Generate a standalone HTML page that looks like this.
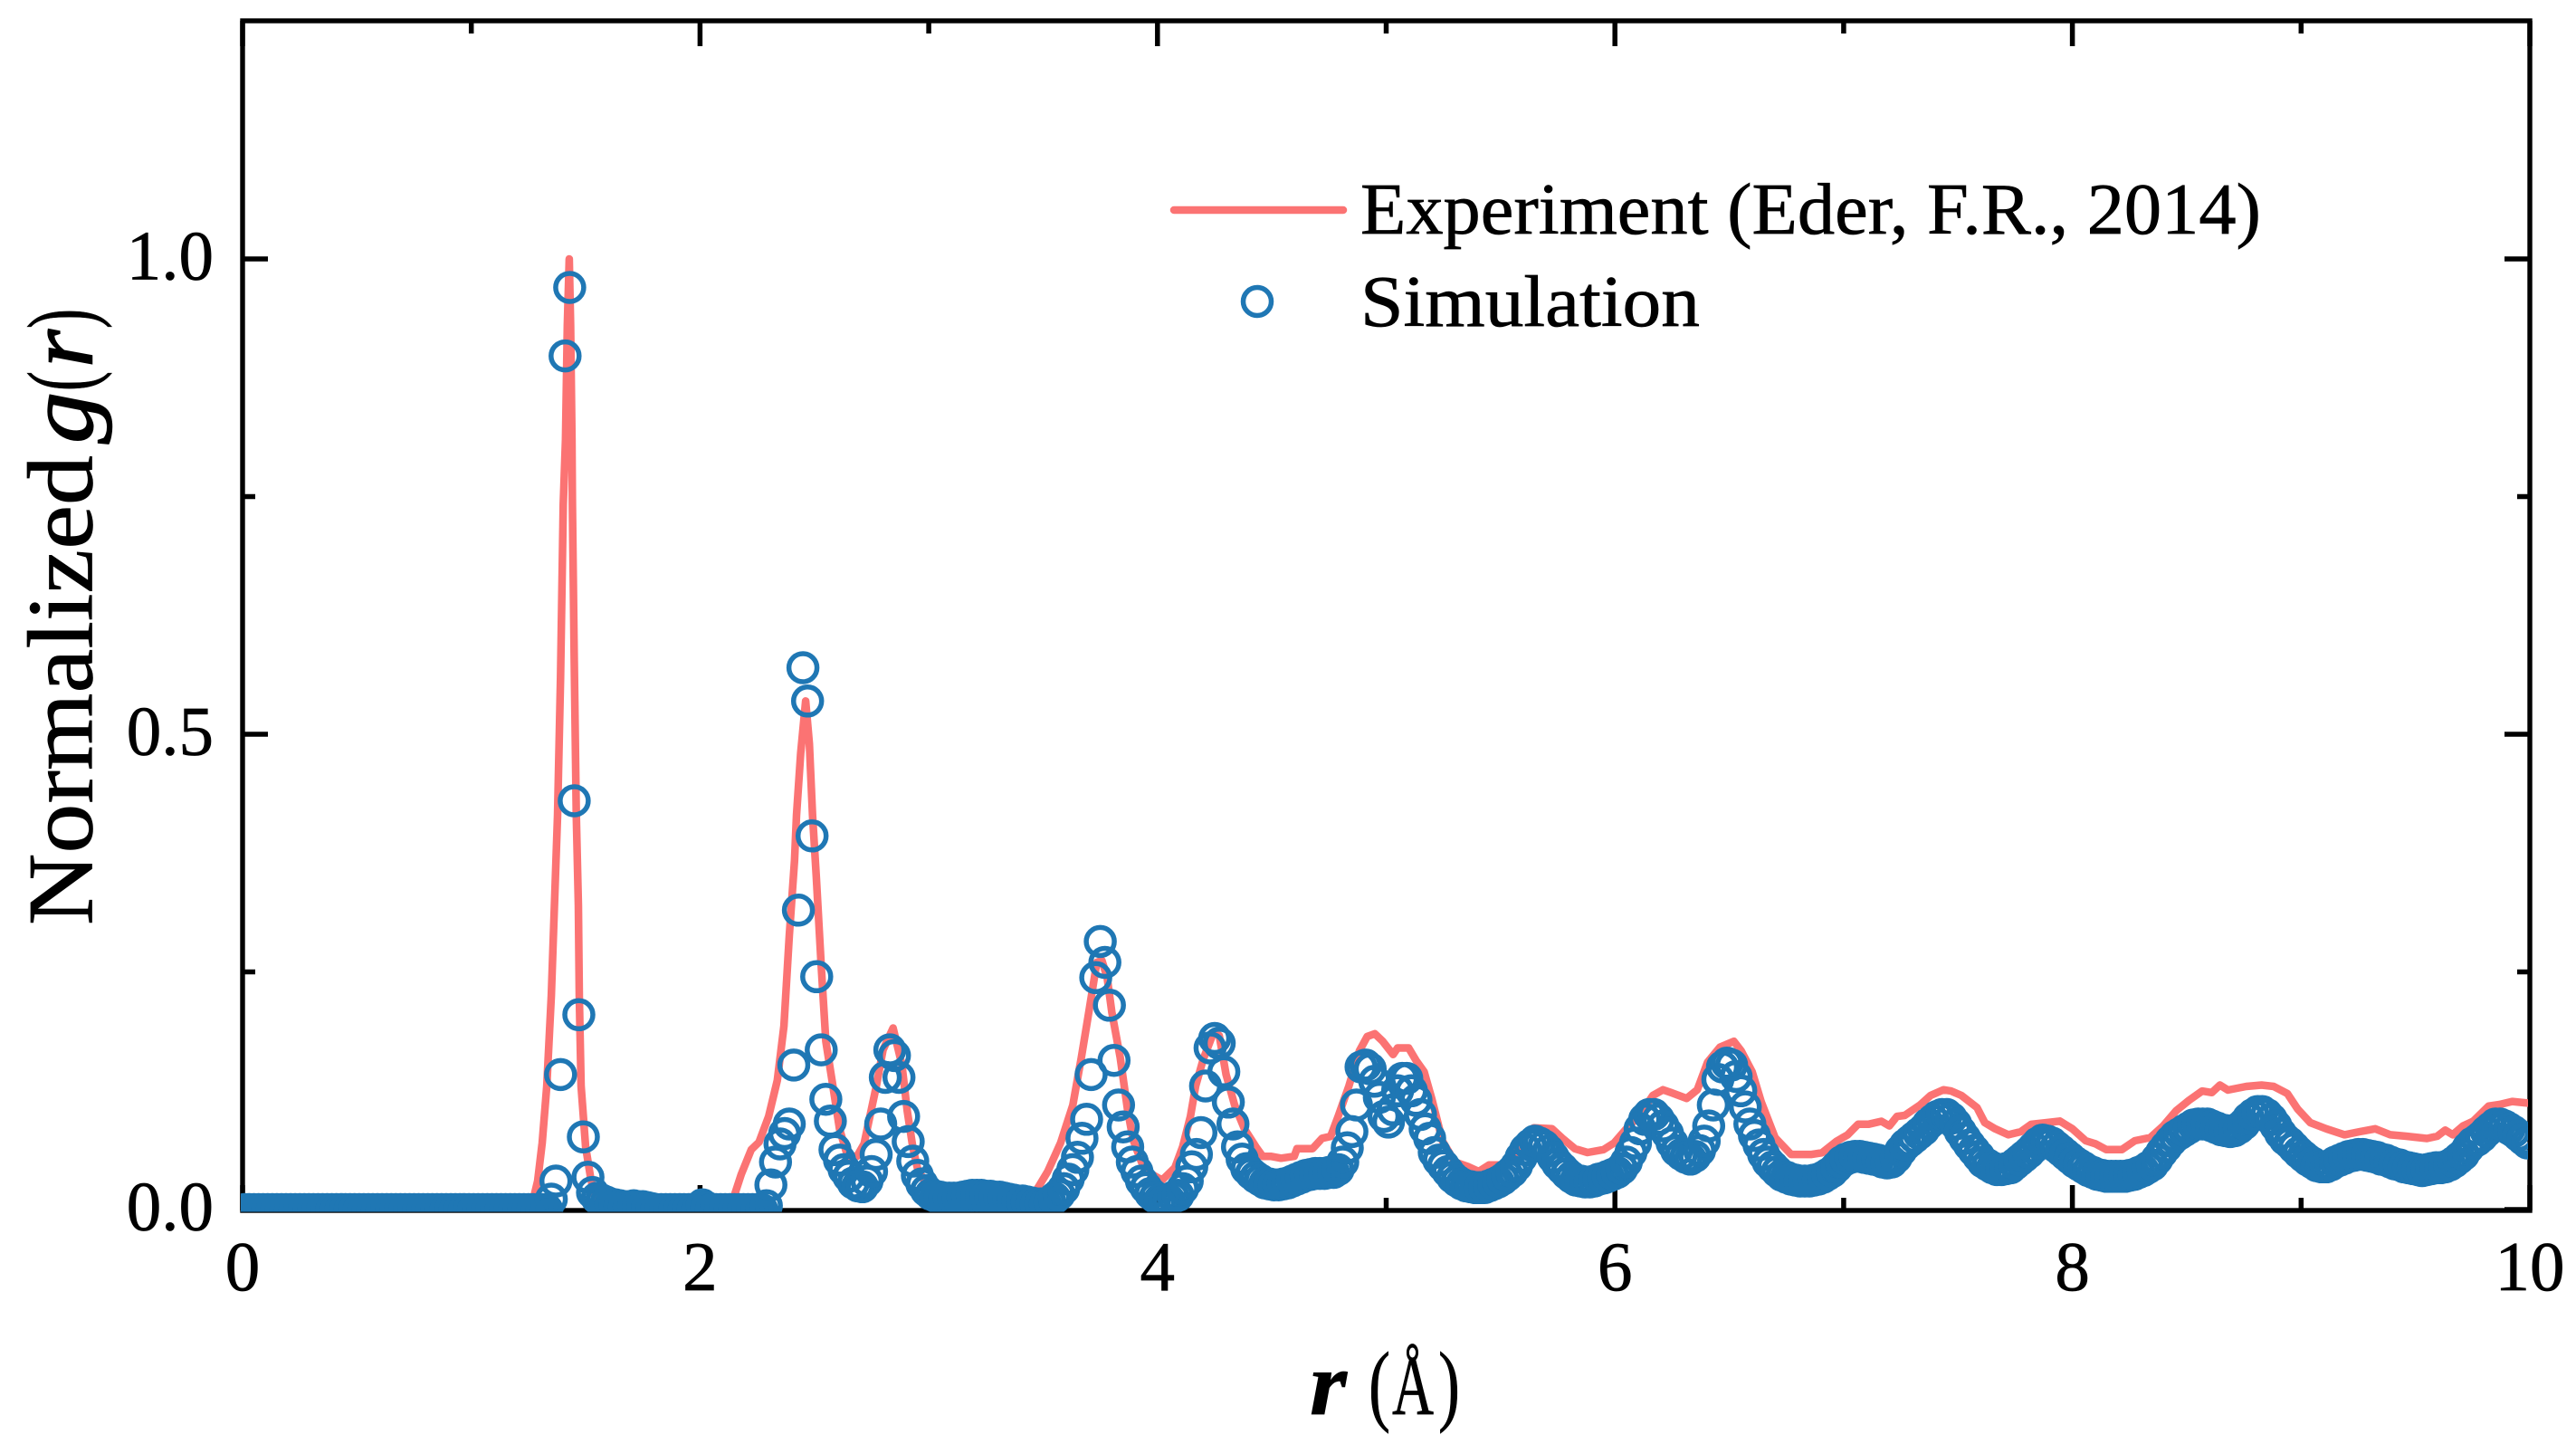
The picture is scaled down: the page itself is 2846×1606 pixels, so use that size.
<!DOCTYPE html>
<html lang="en">
<head>
<meta charset="utf-8">
<title>Normalized g(r): Experiment vs Simulation</title>
<style>
html,body{margin:0;padding:0;background:#fff;}
svg{display:block;}
text{font-family:"Liberation Serif",serif;fill:#000;stroke:#000;stroke-width:0.7px;}
</style>
</head>
<body>
<svg id="chart" xmlns="http://www.w3.org/2000/svg" width="2846" height="1606" viewBox="0 0 2846 1606">
  <rect x="0" y="0" width="2846" height="1606" fill="#ffffff"/>
  <defs>
    <clipPath id="plot-clip"><rect x="266" y="0" width="2527" height="1338.5"/></clipPath>
  </defs>
  <g id="axes"></g>
  <g id="series" clip-path="url(#plot-clip)"></g>

  <g transform="translate(101.5,1022) rotate(-90)">
    <text x="0" y="0" font-size="103" textLength="519" lengthAdjust="spacingAndGlyphs">Normalized</text>
    <text x="532" y="0" font-size="103" font-style="italic" textLength="57" lengthAdjust="spacingAndGlyphs" style="stroke-width:1.5px">g</text>
    <text x="590" y="0" font-size="103" textLength="22" lengthAdjust="spacingAndGlyphs">(</text>
    <text x="616" y="0" font-size="103" font-style="italic" textLength="42" lengthAdjust="spacingAndGlyphs" style="stroke-width:1.5px">r</text>
    <text x="659" y="0" font-size="103" textLength="22" lengthAdjust="spacingAndGlyphs">)</text>
  </g>

  <g>
    <text x="1447" y="1562" font-size="100" font-style="italic" font-weight="bold" textLength="41" lengthAdjust="spacingAndGlyphs">r</text>
    <text x="1512" y="1562" font-size="100" textLength="24" lengthAdjust="spacingAndGlyphs">(</text>
    <text x="1538" y="1562" font-size="94" textLength="46" lengthAdjust="spacingAndGlyphs">Å</text>
    <text x="1589" y="1562" font-size="100" textLength="24" lengthAdjust="spacingAndGlyphs">)</text>
  </g>

  <g>
    <line x1="1297" y1="232" x2="1484" y2="232" stroke="#fb7373" stroke-width="8.5" stroke-linecap="round"/>
    <text x="1503" y="258" font-size="80" textLength="995" lengthAdjust="spacingAndGlyphs">Experiment (Eder, F.R., 2014)</text>
    <circle cx="1389" cy="333" r="15.5" fill="none" stroke="#1f77b4" stroke-width="5.5"/>
    <text x="1503" y="360" font-size="80" textLength="375" lengthAdjust="spacingAndGlyphs">Simulation</text>
  </g>
</svg>

<script>
// Tick values
const xMajorTicks = [0, 2, 4, 6, 8, 10];
const xMinorTicks = [1, 3, 5, 7, 9];
const yMajorTicks = [0, 0.5, 1.0];
const yMinorTicks = [0.25, 0.75];
const xTickLabels = ["0", "2", "4", "6", "8", "10"];
const yTickLabels = ["0.0", "0.5", "1.0"];

// Experiment curve (r in angstrom, normalized g)
const expR = [
  0, 1.26, 1.29, 1.31, 1.33, 1.35, 1.377, 1.39, 1.402, 1.412, 1.42, 1.428, 1.434, 1.44, 1.442, 1.45, 1.459, 1.468, 1.472, 1.48, 1.50, 1.52, 1.54, 1.56, 1.62,
  2.10, 2.145, 2.18, 2.224, 2.258, 2.30, 2.338, 2.367, 2.39, 2.413, 2.422, 2.44, 2.462, 2.478, 2.492, 2.508, 2.53, 2.55, 2.577, 2.61, 2.645, 2.686,
  2.717, 2.77, 2.80, 2.844, 2.883, 2.906, 2.93, 2.95, 2.985, 3.03, 3.10, 3.20, 3.30, 3.38,
  3.45, 3.52, 3.576, 3.63, 3.667, 3.70, 3.735, 3.757, 3.78, 3.80, 3.837, 3.87, 3.894, 3.93, 3.96, 4.02, 4.076, 4.11, 4.144, 4.167, 4.20, 4.246, 4.27, 4.30, 4.337, 4.38, 4.43, 4.46, 4.495, 4.54, 4.598, 4.61, 4.678, 4.72, 4.757, 4.79, 4.837, 4.883, 4.917, 4.95, 4.985, 5.03, 5.05, 5.098, 5.13, 5.166, 5.20, 5.246, 5.30, 5.36, 5.405, 5.45, 5.507, 5.564, 5.61, 5.645, 5.725, 5.77, 5.825, 5.88, 5.95, 5.996, 6.05, 6.11, 6.166, 6.21, 6.245, 6.314, 6.36, 6.405, 6.46, 6.52, 6.552, 6.60, 6.64,
  6.70, 6.77, 6.86, 6.905, 6.97, 7.018, 7.063, 7.108, 7.165, 7.20, 7.233, 7.267, 7.334, 7.38, 7.436, 7.47, 7.515, 7.583, 7.617, 7.662, 7.72, 7.775, 7.82, 7.888, 7.945, 8.00, 8.058, 8.10, 8.148, 8.216, 8.273, 8.34, 8.397, 8.454, 8.51, 8.567, 8.61, 8.645, 8.68, 8.76, 8.827, 8.88, 8.94, 8.985, 9.04, 9.11, 9.19, 9.256, 9.324, 9.39, 9.46, 9.55, 9.595, 9.63, 9.663, 9.708, 9.753, 9.82, 9.867, 9.923, 9.99
];
const expG = [
  0, 0, 0.03, 0.07, 0.13, 0.225, 0.415, 0.56, 0.742, 0.81, 0.93, 1.0, 0.93, 0.81, 0.742, 0.58, 0.415, 0.32, 0.225, 0.13, 0.066, 0.036, 0.012, 0.003, 0,
  0, 0.011, 0.037, 0.063, 0.071, 0.098, 0.136, 0.193, 0.288, 0.367, 0.415, 0.48, 0.535, 0.49, 0.415, 0.351, 0.256, 0.177, 0.136, 0.085, 0.056, 0.056,
  0.069, 0.129, 0.168, 0.191, 0.152, 0.104, 0.066, 0.044, 0.028, 0.015, 0.014, 0.016, 0.015, 0.012,
  0.012, 0.04, 0.07, 0.11, 0.16, 0.208, 0.26, 0.262, 0.244, 0.208, 0.16, 0.104, 0.073, 0.05, 0.039, 0.031, 0.044, 0.066, 0.098, 0.13, 0.158, 0.187, 0.183, 0.142, 0.11, 0.085, 0.066, 0.056, 0.056, 0.054, 0.056, 0.064, 0.064, 0.075, 0.077, 0.098, 0.13, 0.167, 0.182, 0.185, 0.177, 0.163, 0.17, 0.17, 0.157, 0.145, 0.116, 0.072, 0.05, 0.045, 0.04, 0.047, 0.047, 0.059, 0.08, 0.086, 0.085, 0.075, 0.064, 0.06, 0.063, 0.07, 0.085, 0.1, 0.12, 0.126, 0.123, 0.117, 0.126, 0.155, 0.171, 0.177, 0.167, 0.145, 0.113,
  0.0757, 0.058, 0.058, 0.0597, 0.072, 0.0787, 0.0897, 0.0897, 0.0929, 0.088, 0.098, 0.099, 0.11, 0.12, 0.126, 0.1247, 0.12, 0.1073, 0.0914, 0.085, 0.0787, 0.0819, 0.0897, 0.0914, 0.093, 0.085, 0.0724, 0.0692, 0.063, 0.063, 0.0724, 0.0756, 0.088, 0.104, 0.115, 0.1247, 0.123, 0.131, 0.1257, 0.1295, 0.131, 0.1295, 0.122, 0.1057, 0.0914, 0.085, 0.0787, 0.0819, 0.085, 0.0787, 0.0771, 0.0748, 0.0771, 0.0835, 0.0787, 0.088, 0.093, 0.1089, 0.1105, 0.1137, 0.112
];

// Simulation values at r = 0.01, 0.03, ... 9.99 (one row per unit of r)
const simG0 = [0,0,0,0,0,0,0,0,0,0,0,0,0,0,0,0,0,0,0,0,0,0,0,0,0,0,0,0,0,0,0,0,0,0,0,0,0,0,0,0,0,0,0,0,0,0,0,0,0,0];
const simG1 = [0,0,0,0,0,0,0,0,0,0,0,0,0,0,0,0,0,.011,.03,.142,.898,.97,.43,.205,.0765,.034,.018,.012,.01,.008,.006,.005,.004,.003,.003,.004,.003,.003,.002,.001,0,0,0,0,0,0,0,0,0,0];
const simG2 = [.005,.002,0,0,0,0,0,0,0,0,0,0,0,0,.004,.026,.05,.069,.08,.09,.152,.315,.57,.535,.393,.245,.168,.116,.093,.063,.052,.042,.035,.028,.025,.024,.03,.04,.058,.09,.139,.168,.162,.139,.098,.0715,.051,.036,.027,.02];
const simG3 = [.016,.014,.013,.012,.012,.012,.012,.013,.014,.015,.015,.015,.014,.014,.013,.013,.012,.011,.01,.009,.009,.008,.007,.006,.006,.006,.008,.012,.016,.022,.032,.042,.055,.075,.095,.142,.244,.282,.26,.215,.157,.11,.087,.066,.05,.04,.03,.023,.017,.013];
const simG4 = [.01,.009,.01,.013,.015,.022,.03,.045,.058,.081,.13,.17,.18,.175,.145,.113,.09,.066,.053,.043,.038,.034,.031,.028,.027,.026,.026,.027,.028,.03,.032,.034,.036,.037,.038,.038,.038,.039,.039,.042,.05,.065,.082,.11,.15,.152,.148,.135,.118,.098];
const simG5 = [.092,.105,.125,.138,.138,.125,.115,.1,.085,.075,.06,.052,.046,.04,.034,.03,.027,.025,.024,.023,.023,.023,.025,.027,.029,.032,.036,.04,.046,.055,.063,.068,.072,.07,.067,.062,.055,.048,.043,.038,.034,.031,.03,.029,.029,.03,.032,.033,.035,.037];
const simG6 = [.039,.043,.05,.06,.07,.085,.095,.1,.1,.095,.088,.08,.07,.062,.058,.055,.053,.056,.062,.072,.088,.11,.137,.15,.154,.152,.14,.125,.108,.09,.078,.068,.058,.05,.045,.04,.036,.034,.032,.031,.03,.03,.03,.031,.032,.034,.037,.04,.045,.05];
const simG7 = [.053,.055,.056,.056,.055,.054,.053,.052,.05,.049,.05,.055,.062,.068,.072,.076,.08,.084,.09,.094,.098,.1,.1,.096,.09,.082,.075,.068,.062,.056,.05,.047,.044,.042,.042,.043,.044,.048,.052,.056,.06,.065,.07,.073,.072,.07,.066,.062,.058,.054];
const simG8 = [.05,.047,.044,.041,.039,.037,.036,.035,.035,.035,.035,.035,.036,.037,.039,.041,.044,.047,.053,.06,.066,.072,.077,.08,.083,.086,.089,.09,.09,.09,.088,.086,.084,.083,.082,.083,.086,.09,.096,.1,.103,.103,.1,.095,.088,.08,.074,.07,.065,.06];
const simG9 = [.056,.052,.049,.046,.045,.045,.047,.05,.052,.054,.056,.057,.058,.058,.057,.056,.055,.053,.052,.05,.048,.047,.045,.044,.043,.042,.041,.042,.043,.044,.044,.045,.047,.05,.054,.058,.065,.07,.073,.077,.082,.086,.09,.09,.088,.085,.082,.078,.074,.07];
const simRows = [simG0, simG1, simG2, simG3, simG4, simG5, simG6, simG7, simG8, simG9];

// Axis functions
const SVG_NS = "http://www.w3.org/2000/svg";
const plotLeft = 268, plotRight = 2795, plotTop = 23, plotBottom = 1337;
const xMin = 0, xMax = 10, yZeroPx = 1336, yPxPerUnit = 1050;
function xScale(r) { return plotLeft + (r - xMin) / (xMax - xMin) * (plotRight - plotLeft); }
function yScale(g) { return yZeroPx - g * yPxPerUnit; }

const axes = document.getElementById("axes");
const series = document.getElementById("series");

function makeLine(x1, y1, x2, y2, w) {
  const l = document.createElementNS(SVG_NS, "line");
  l.setAttribute("x1", x1);
  l.setAttribute("y1", y1);
  l.setAttribute("x2", x2);
  l.setAttribute("y2", y2);
  l.setAttribute("stroke", "#000");
  l.setAttribute("stroke-width", w);
  return l;
}

// Frame
const frame = document.createElementNS(SVG_NS, "rect");


frame.setAttribute("x", plotLeft);
frame.setAttribute("y", plotTop);
frame.setAttribute("width", plotRight - plotLeft);
frame.setAttribute("height", plotBottom - plotTop);
frame.setAttribute("fill", "none");
frame.setAttribute("stroke", "#000");
frame.setAttribute("stroke-width", "5.4");
axes.appendChild(frame);

// X ticks, inward on bottom and top
function addXTick(v, len) {
  const b = makeLine(xScale(v), plotBottom, xScale(v), plotBottom - len, 5.5);
  
  
  axes.appendChild(b);
  const t = makeLine(xScale(v), plotTop, xScale(v), plotTop + len, 5.5);
  
  
  axes.appendChild(t);
}
xMajorTicks.forEach(function (v) { addXTick(v, 28); });
xMinorTicks.forEach(function (v) { addXTick(v, 14); });

// Y ticks, inward on left and right
function addYTick(v, len) {
  const a = makeLine(plotLeft, yScale(v), plotLeft + len, yScale(v), 5.5);
  
  
  axes.appendChild(a);
  const c = makeLine(plotRight, yScale(v), plotRight - len, yScale(v), 5.5);
  
  
  axes.appendChild(c);
}
yMajorTicks.forEach(function (v) { addYTick(v, 28); });
yMinorTicks.forEach(function (v) { addYTick(v, 14); });

// Tick labels
xMajorTicks.forEach(function (v, i) {
  const t = document.createElementNS(SVG_NS, "text");
  
  
  t.setAttribute("x", xScale(v));
  t.setAttribute("y", 1425);
  t.setAttribute("font-size", "77");
  t.setAttribute("text-anchor", "middle");
  t.textContent = xTickLabels[i];
  axes.appendChild(t);
});
yMajorTicks.forEach(function (v, i) {
  const t = document.createElementNS(SVG_NS, "text");
  
  
  t.setAttribute("x", 236);
  t.setAttribute("y", yScale(v) + 22.5);
  t.setAttribute("font-size", "77");
  t.setAttribute("text-anchor", "end");
  t.textContent = yTickLabels[i];
  axes.appendChild(t);
});

// Experiment line
const expPoints = expR.map(function (r, i) {
  return xScale(r).toFixed(1) + "," + yScale(expG[i]).toFixed(1);
}).join(" ");
const expLine = document.createElementNS(SVG_NS, "polyline");


expLine.setAttribute("points", expPoints);
expLine.setAttribute("fill", "none");
expLine.setAttribute("stroke", "#fb7373");
expLine.setAttribute("stroke-width", "8.5");
expLine.setAttribute("stroke-linejoin", "round");
expLine.setAttribute("stroke-linecap", "round");
series.appendChild(expLine);

// Simulation markers
simRows.forEach(function (row, unit) {
  row.forEach(function (g, k) {
    const r = unit + 0.01 + 0.02 * k;
    const c = document.createElementNS(SVG_NS, "circle");
    
    
    c.setAttribute("cx", xScale(r).toFixed(1));
    c.setAttribute("cy", yScale(g).toFixed(1));
    c.setAttribute("r", "15.5");
    c.setAttribute("fill", "none");
    c.setAttribute("stroke", "#1f77b4");
    c.setAttribute("stroke-width", "5.5");
    series.appendChild(c);
  });
});
</script>
</body>
</html>
